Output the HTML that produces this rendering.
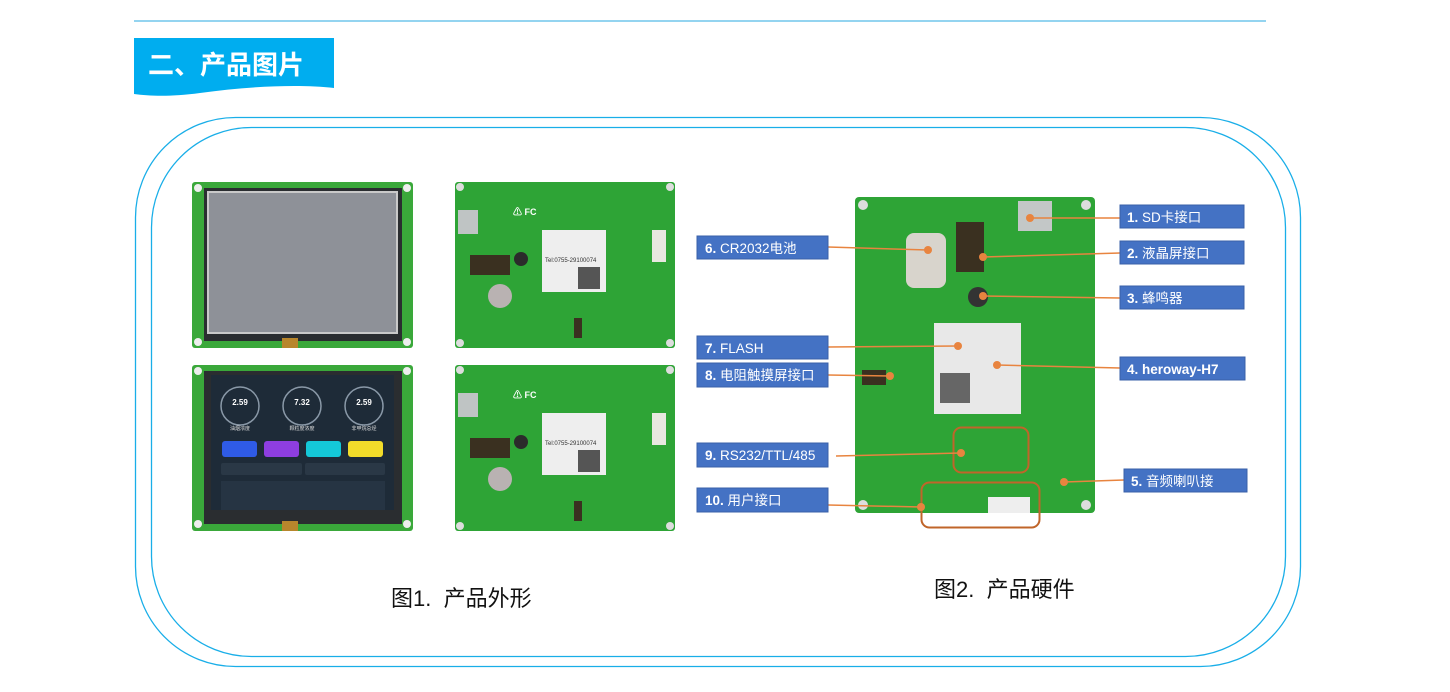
<!DOCTYPE html>
<html><head><meta charset="utf-8"><style>
body{margin:0;background:#fff;width:1450px;height:692px;overflow:hidden;font-family:"Liberation Sans","Noto Sans CJK SC",sans-serif}
</style></head><body>
<svg width="1450" height="692" viewBox="0 0 1450 692" xmlns="http://www.w3.org/2000/svg" style="position:absolute;left:0;top:0">
<line x1="134" y1="21" x2="1266" y2="21" stroke="#2aa8e0" stroke-width="1"/>
<path d="M134 38 H334 V88 C300 84 250 86 200 93 C170 97 150 96 134 94 Z" fill="#00adef"/>
<text x="148" y="74" font-size="26" font-weight="bold" fill="#fff" font-family="'Noto Sans CJK SC',sans-serif">二、产品图片</text>
<rect x="135.5" y="117.5" width="1165" height="549" rx="100" fill="none" stroke="#19aee8" stroke-width="1.3"/>
<rect x="151.5" y="127.5" width="1134" height="529" rx="100" fill="none" stroke="#19aee8" stroke-width="1.3"/>

<!-- image 1 -->
<rect x="192" y="182" width="221" height="166" rx="3" fill="#3aa83a"/>
<rect x="204" y="188" width="198" height="153" fill="#2a2d30"/>
<rect x="208" y="192" width="189" height="141" fill="#8e9198" stroke="#c9c9c9" stroke-width="2"/>
<circle cx="198" cy="188" r="4" fill="#eee"/><circle cx="407" cy="188" r="4" fill="#eee"/>
<circle cx="198" cy="342" r="4" fill="#eee"/><circle cx="407" cy="342" r="4" fill="#eee"/>
<rect x="282" y="338" width="16" height="10" fill="#b8862c"/>
<!-- image 2 -->
<rect x="192" y="365" width="221" height="166" rx="3" fill="#3aa83a"/>
<rect x="204" y="371" width="198" height="153" fill="#2a2d30"/>
<rect x="211" y="375" width="183" height="135" fill="#1e2b38"/>
<circle cx="240" cy="406" r="19" fill="none" stroke="#8a99a8" stroke-width="1.5"/>
<circle cx="302" cy="406" r="19" fill="none" stroke="#8a99a8" stroke-width="1.5"/>
<circle cx="364" cy="406" r="19" fill="none" stroke="#8a99a8" stroke-width="1.5"/>
<text x="240" y="405" font-size="8" fill="#fff" text-anchor="middle" font-weight="bold">2.59</text>
<text x="302" y="405" font-size="8" fill="#fff" text-anchor="middle" font-weight="bold">7.32</text>
<text x="364" y="405" font-size="8" fill="#fff" text-anchor="middle" font-weight="bold">2.59</text>
<text x="240" y="430" font-size="5" fill="#ddd" text-anchor="middle">油烟浓度</text>
<text x="302" y="430" font-size="5" fill="#ddd" text-anchor="middle">颗粒度浓度</text>
<text x="364" y="430" font-size="5" fill="#ddd" text-anchor="middle">非甲烷总烃</text>
<rect x="222" y="441" width="35" height="16" rx="3" fill="#2f5be6"/>
<rect x="264" y="441" width="35" height="16" rx="3" fill="#8e3ee0"/>
<rect x="306" y="441" width="35" height="16" rx="3" fill="#14c8d8"/>
<rect x="348" y="441" width="35" height="16" rx="3" fill="#f2dc2a"/>
<rect x="221" y="463" width="81" height="12" rx="2" fill="#2a3846"/>
<rect x="305" y="463" width="80" height="12" rx="2" fill="#2a3846"/>
<rect x="221" y="481" width="164" height="29" fill="#263443"/>
<circle cx="198" cy="371" r="4" fill="#eee"/><circle cx="407" cy="371" r="4" fill="#eee"/>
<circle cx="198" cy="524" r="4" fill="#eee"/><circle cx="407" cy="524" r="4" fill="#eee"/>
<rect x="282" y="521" width="16" height="10" fill="#b8862c"/>

<!-- image 3 & 4 -->
<g id="p">
<rect x="455" y="182" width="220" height="166" rx="3" fill="#2ea436"/>
<rect x="458" y="210" width="20" height="24" fill="#bfc4c4"/>
<rect x="542" y="230" width="64" height="62" fill="#eeeeee"/>
<text x="545" y="262" font-size="6" fill="#333">Tel:0755-29100074</text>
<rect x="578" y="267" width="22" height="22" fill="#555"/>
<circle cx="521" cy="259" r="7" fill="#2b2b2b"/>
<circle cx="500" cy="296" r="12" fill="#b9b2b2"/>
<rect x="470" y="255" width="40" height="20" fill="#3a3020"/>
<rect x="652" y="230" width="14" height="32" fill="#e8e8e0"/>
<text x="513" y="215" font-size="9" fill="#fff" font-weight="bold">⚠  FC</text>
<circle cx="460" cy="187" r="4" fill="#ddd"/><circle cx="670" cy="187" r="4" fill="#ddd"/>
<circle cx="460" cy="343" r="4" fill="#ddd"/><circle cx="670" cy="343" r="4" fill="#ddd"/>
<rect x="574" y="318" width="8" height="20" fill="#3a3020"/>
</g>
<use href="#p" y="183"/>

<!-- big pcb -->
<rect x="855" y="197" width="240" height="316" rx="4" fill="#2ea436"/>
<rect x="1018" y="201" width="34" height="30" fill="#c3c7c7"/>
<rect x="956" y="222" width="28" height="50" fill="#3a3020"/>
<rect x="906" y="233" width="40" height="55" rx="8" fill="#d8d4cc"/>
<circle cx="978" cy="297" r="10" fill="#333"/>
<rect x="934" y="323" width="87" height="91" fill="#e8e8e8"/>
<rect x="940" y="373" width="30" height="30" fill="#666"/>
<rect x="862" y="370" width="24" height="15" fill="#3a3020"/>
<rect x="988" y="497" width="42" height="16" fill="#eee"/>
<circle cx="863" cy="205" r="5" fill="#ddd"/><circle cx="1086" cy="205" r="5" fill="#ddd"/>
<circle cx="863" cy="505" r="5" fill="#ddd"/><circle cx="1086" cy="505" r="5" fill="#ddd"/>
<rect x="953.5" y="427.5" width="75" height="45" rx="8" fill="none" stroke="#c0652a" stroke-width="2"/>
<rect x="921.5" y="482.5" width="118" height="45" rx="8" fill="none" stroke="#c0652a" stroke-width="2"/>

<g stroke="#e8843f" stroke-width="1.5" fill="none">
<line x1="828" y1="247" x2="928" y2="250"/>
<line x1="828" y1="347" x2="958" y2="346"/>
<line x1="828" y1="375" x2="890" y2="376"/>
<line x1="836" y1="456" x2="961" y2="453"/>
<line x1="828" y1="505" x2="921" y2="507"/>
<line x1="1030" y1="218" x2="1120" y2="218"/>
<line x1="983" y1="257" x2="1120" y2="253"/>
<line x1="983" y1="296" x2="1120" y2="298"/>
<line x1="997" y1="365" x2="1120" y2="368"/>
<line x1="1064" y1="482" x2="1124" y2="480"/>
</g>
<g fill="#e8843f">
<circle cx="928" cy="250" r="4"/><circle cx="958" cy="346" r="4"/><circle cx="890" cy="376" r="4"/>
<circle cx="961" cy="453" r="4"/><circle cx="921" cy="507" r="4"/><circle cx="1030" cy="218" r="4"/>
<circle cx="983" cy="257" r="4"/><circle cx="983" cy="296" r="4"/><circle cx="997" cy="365" r="4"/><circle cx="1064" cy="482" r="4"/>
</g>
<g fill="#4472c4" stroke="#3a60a8" stroke-width="1">
<rect x="697" y="236" width="131" height="23"/>
<rect x="697" y="336" width="131" height="23"/>
<rect x="697" y="363" width="131" height="24"/>
<rect x="697" y="443" width="131" height="24"/>
<rect x="697" y="488" width="131" height="24"/>
<rect x="1120" y="205" width="124" height="23"/>
<rect x="1120" y="241" width="124" height="23"/>
<rect x="1120" y="286" width="124" height="23"/>
<rect x="1120" y="357" width="125" height="23"/>
<rect x="1124" y="469" width="123" height="23"/>
</g>
<g fill="#fff" font-size="13.5">
<text x="705" y="253"><tspan font-weight="bold">6.</tspan> CR2032电池</text>
<text x="705" y="353"><tspan font-weight="bold">7.</tspan> FLASH</text>
<text x="705" y="380"><tspan font-weight="bold">8.</tspan> 电阻触摸屏接口</text>
<text x="705" y="460"><tspan font-weight="bold">9.</tspan> RS232/TTL/485</text>
<text x="705" y="505"><tspan font-weight="bold">10.</tspan> 用户接口</text>
<text x="1127" y="222"><tspan font-weight="bold">1.</tspan> SD卡接口</text>
<text x="1127" y="258"><tspan font-weight="bold">2.</tspan> 液晶屏接口</text>
<text x="1127" y="303"><tspan font-weight="bold">3.</tspan> 蜂鸣器</text>
<text x="1127" y="374" font-weight="bold">4. heroway-H7</text>
<text x="1131" y="486"><tspan font-weight="bold">5.</tspan> 音频喇叭接</text>
</g>
<text x="391" y="606" font-size="22" fill="#111" xml:space="preserve">图1.  产品外形</text>
<text x="934" y="597" font-size="22" fill="#111" xml:space="preserve">图2.  产品硬件</text>
</svg>
</body></html>
